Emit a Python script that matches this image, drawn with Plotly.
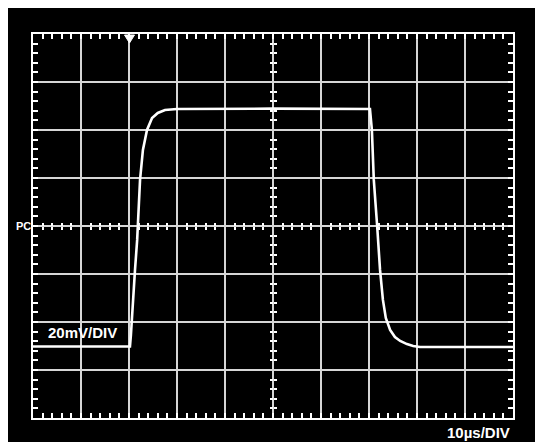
import plotly.graph_objects as go

# Data (time in µs, amplitude in mV)
time_us = [0, 20.2, 20.4, 20.6, 20.8, 21.25, 21.7, 22.1, 22.3, 22.9, 23.75, 24.8,
           26.0, 27.5, 30.0, 50, 70.2, 70.6, 71.0, 71.7, 72.3, 72.9, 73.5, 74.4,
           75.4, 76.5, 77.9, 79.2, 80.6, 100]
volt_mv = [-50.2, -50.2, -45.4, -40, -30.8, -18.3, -5.8, 15, 19.2, 31.7, 40, 45,
           47.1, 48.3, 48.75, 48.9, 48.75, 40, 19.2, 0, -18.3, -30.8, -38.3, -43.3,
           -46.25, -47.9, -49.2, -50, -50.4, -50.4]

x_range = [0, 100]
y_range = [-80, 80]
v_label = "20mV/DIV"
t_label = "10µs/DIV"

OFF = 8                      # page body margin
WIN_W, WIN_H = 535, 442
W, H = WIN_W - OFF, WIN_H - OFF
PL, PR, PT, PB = 33, 513, 34, 418   # plot area in window pixels
ML, MT = PL - OFF, PT - OFF
MR, MB = W + OFF - PR, H + OFF - PB
PW, PH = PR - PL, PB - PT

def px_x(p):
    return (p - PL) / PW

def px_y(p):
    return (PB - p) / PH

fig = go.Figure()
fig.add_trace(go.Scatter(x=time_us, y=volt_mv, mode="lines",
                         line=dict(color="white", width=2.6),
                         hoverinfo="skip", showlegend=False))
# helper traces so the centre-tick axes are drawn
for xa, ya in [("x2", "y"), ("x3", "y"), ("x", "y2"), ("x", "y3")]:
    fig.add_trace(go.Scatter(x=[None], y=[None], xaxis=xa, yaxis=ya,
                             showlegend=False, hoverinfo="skip"))

grid = "#d6d6d6"
common = dict(showgrid=True, gridcolor=grid, gridwidth=1.5, zeroline=False,
              showline=True, linecolor="white", linewidth=2, mirror="ticks",
              ticks="inside", ticklen=5, tickwidth=1.5, tickcolor="white",
              showticklabels=False, fixedrange=True)

fig.update_layout(
    width=W, height=H,
    margin=dict(l=ML, r=MR, t=MT, b=MB),
    paper_bgcolor="black", plot_bgcolor="black",
    xaxis=dict(range=x_range, dtick=10,
               minor=dict(dtick=2, ticks="inside", ticklen=5, tickwidth=1.5,
                          tickcolor="white", showgrid=False), **common),
    yaxis=dict(range=y_range, dtick=20,
               minor=dict(dtick=4, ticks="inside", ticklen=5, tickwidth=1.5,
                          tickcolor="white", showgrid=False), **common),
    showlegend=False,
)

center_x = dict(range=x_range, overlaying="x", anchor="free", position=0.5,
                showgrid=False, showline=False, zeroline=False, ticks="",
                showticklabels=False, dtick=10, fixedrange=True)
center_y = dict(range=y_range, overlaying="y", anchor="free", position=0.5,
                showgrid=False, showline=False, zeroline=False, ticks="",
                showticklabels=False, dtick=20, fixedrange=True)
fig.update_layout(
    xaxis2=dict(minor=dict(dtick=2, ticks="inside", ticklen=3, tickwidth=1.5,
                           tickcolor="white"), **center_x),
    xaxis3=dict(minor=dict(dtick=2, ticks="outside", ticklen=3, tickwidth=1.5,
                           tickcolor="white"), **center_x),
    yaxis2=dict(minor=dict(dtick=4, ticks="inside", ticklen=3, tickwidth=1.5,
                           tickcolor="white"), **center_y),
    yaxis3=dict(minor=dict(dtick=4, ticks="outside", ticklen=3, tickwidth=1.5,
                           tickcolor="white"), **center_y),
)

# black box behind the volts/div label
fig.add_shape(type="rect", xref="paper", yref="paper", layer="between",
              x0=px_x(43), x1=px_x(129), y0=px_y(345), y1=px_y(323),
              fillcolor="black", line_width=0)

# trigger marker at the top
fig.add_shape(type="path", xref="paper", yref="paper", layer="above",
              path="M {a},{t} L {b},{t} L {c},{m} Z".format(
                  a=px_x(124.5), b=px_x(134.5), c=px_x(129.5),
                  t=px_y(35), m=px_y(43)),
              fillcolor="white", line=dict(color="white", width=1))

font = dict(family="Liberation Sans, Arial, sans-serif", size=15, color="white")
fig.add_annotation(text="<b>" + v_label + "</b>", xref="paper", yref="paper",
                   x=px_x(46), y=px_y(332), xanchor="left", yanchor="middle",
                   showarrow=False, font=font)
fig.add_annotation(text="<b>" + t_label + "</b>", xref="paper", yref="paper",
                   x=px_x(512), y=px_y(432), xanchor="right", yanchor="middle",
                   showarrow=False, font=font)
fig.add_annotation(text="<b>PC</b>", xref="paper", yref="paper",
                   x=px_x(33), y=px_y(226), xanchor="right", yanchor="middle",
                   showarrow=False,
                   font=dict(family="Liberation Sans, Arial, sans-serif", size=11,
                             color="white"))

# page: white top/left margin, black everywhere right of / below the figure start
fig.write_html(
    "out.html",
    post_script=(
        "document.documentElement.style.overflow='hidden';"
        "document.documentElement.style.background="
        "'linear-gradient(to right, white 8px, transparent 8px),"
        " linear-gradient(to bottom, white 8px, black 8px)';"
    ),
)
